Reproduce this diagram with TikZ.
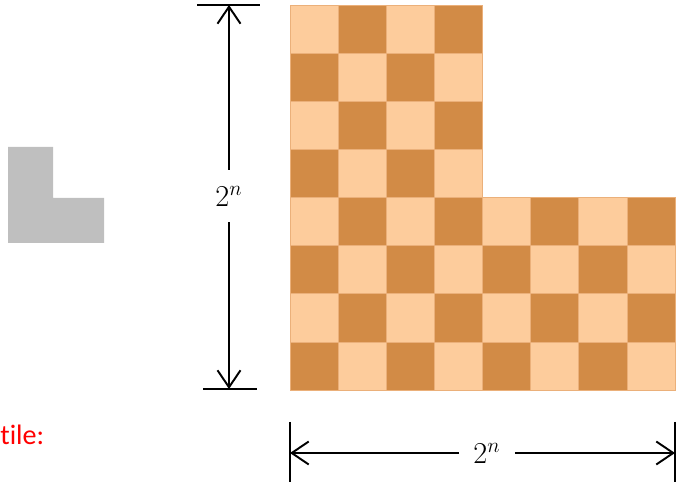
\documentclass[tikz,border=0pt]{standalone}
\usepackage{fontspec}
\setmainfont[Ligatures=NoCommon]{Carlito}
\usetikzlibrary{arrows.meta}
\definecolor{lightsq}{HTML}{FDCC9C}
\definecolor{darksq}{HTML}{D28B46}
\definecolor{sqline}{HTML}{EBB07A}
\definecolor{tilegray}{HTML}{BFBFBF}
\begin{document}
\begin{tikzpicture}[x=0.02cm,y=-0.02cm,
  bar/.style={line width=1.1pt},
  dim/.style={line width=1.1pt,-{Straight Barb[length=3.4mm,width=4.6mm,line width=1.1pt]}},
  dimlabel/.style={inner sep=0pt,font=\fontsize{18}{21}\selectfont}]
\useasboundingbox (0,0) rectangle (686,482);
% the L tile
\fill[tilegray] (8,147) -- (53,147) -- (53,198) -- (104,198) -- (104,243) -- (8,243) -- cycle;
\node[anchor=base west,inner sep=0pt,text=red,font=\fontsize{16}{19}\selectfont] (tilelab) at (0,445) {tile:};
% board, top right quarter missing
\foreach \r in {0,...,7}
  \foreach \c in {0,...,7}{
    \pgfmathtruncatemacro{\cut}{(\r<4)*(\c>3)}
    \ifnum\cut=0
      \pgfmathtruncatemacro{\s}{\r+\c}
      \ifodd\s \def\sq{darksq}\else\def\sq{lightsq}\fi
      \filldraw[fill=\sq,draw=sqline,line width=0.3pt] ({290+48.125*\c},{5+48.125*\r}) rectangle +(48.125,48.125);
    \fi
  }
% vertical size
\draw[bar] (197,5) -- (260,5);
\draw[bar] (203,389) -- (257,389);
\coordinate (vtop) at (229,5);
\coordinate (vbot) at (229,389);
\node[dimlabel,minimum height=1.04cm] (vlab) at (229,196) {$2^n$};
\draw[dim] (vlab) -- (vtop);
\draw[dim] (vlab) -- (vbot);
% horizontal size
\draw[bar] (290,422) -- (290,482);
\draw[bar] (675,422) -- (675,482);
\coordinate (hleft) at (290,453);
\coordinate (hright) at (675,453);
\node[dimlabel,minimum width=1.1cm] (hlab) at (487,453) {$2^n$};
\draw[dim] (hlab) -- (hleft);
\draw[dim] (hlab) -- (hright);
\end{tikzpicture}
\end{document}
